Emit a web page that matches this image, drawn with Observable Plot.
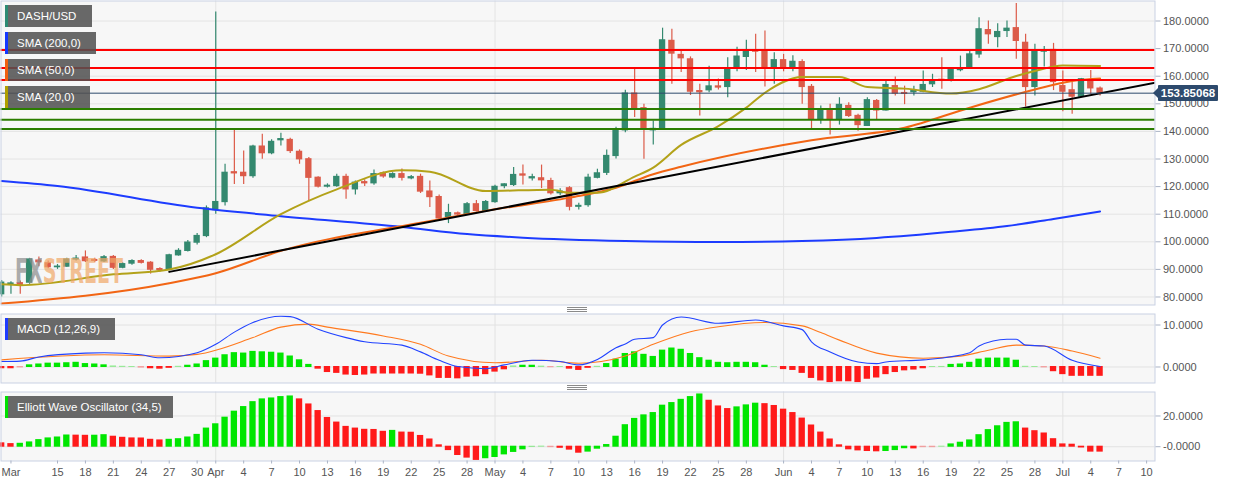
<!DOCTYPE html>
<html><head><meta charset="utf-8">
<script src="https://cdn.jsdelivr.net/npm/d3@7"></script>
<script src="https://cdn.jsdelivr.net/npm/@observablehq/plot@0.6"></script>
<style>
body{margin:0;background:#fff;font-family:"Liberation Sans",Arial,sans-serif;}
#wrap{position:relative;width:1244px;height:486px;overflow:hidden;background:#fff;}
.panel{position:absolute;left:0;}
.panel svg{display:block;}
.leg{position:absolute;left:5px;height:22px;background:rgba(80,80,80,0.86);color:#fff;font-size:11.5px;line-height:22px;padding-left:12px;box-sizing:border-box;white-space:nowrap;}
.leg i{position:absolute;left:0;top:0;width:3px;height:22px;}
.handle{position:absolute;left:567px;width:20px;height:1px;background:#8a8a8a;box-shadow:0 2px 0 #8a8a8a,0 4px 0 #8a8a8a;}
#plabel{position:absolute;left:1158px;width:60px;height:16px;background:#2d4a6d;color:#fff;font-weight:bold;font-size:11.5px;line-height:16px;text-align:center;border-radius:1px;}
#plabel:before{content:"";position:absolute;left:-5px;top:3px;border-top:5px solid transparent;border-bottom:5px solid transparent;border-right:5px solid #2d4a6d;}
</style></head>
<body><div id="wrap">
<div id="p1" class="panel" style="top:0"></div>
<div id="p2" class="panel" style="top:313px"></div>
<div id="p3" class="panel" style="top:391px"></div>
<div class="handle" style="top:307px"></div>
<div class="handle" style="top:385px"></div>
<svg id="wm" style="position:absolute;left:0;top:0;pointer-events:none" width="300" height="300">
 <defs><linearGradient id="wmg" gradientUnits="userSpaceOnUse" x1="15" y1="0" x2="123" y2="0">
  <stop offset="0" stop-color="#8c8c8c"/><stop offset="0.25" stop-color="#8c8c8c"/><stop offset="0.25" stop-color="#f0a868"/><stop offset="1" stop-color="#f0a868"/>
 </linearGradient></defs>
 <text x="15" y="283" font-family="DejaVu Sans Condensed, DejaVu Sans" font-weight="bold" font-size="33" textLength="108" lengthAdjust="spacingAndGlyphs" fill="url(#wmg)" opacity="0.7">FXSTREET</text>
</svg>
<div class="leg" style="top:5px;width:87px"><i style="background:#2e8b74"></i>DASH/USD</div>
<div class="leg" style="top:32px;width:91px"><i style="background:#1438ff"></i>SMA (200,0)</div>
<div class="leg" style="top:59px;width:85px"><i style="background:#f06010"></i>SMA (50,0)</div>
<div class="leg" style="top:86px;width:85px"><i style="background:#b0a000"></i>SMA (20,0)</div>
<div class="leg" style="top:318px;width:110px"><i style="background:#1e3cff"></i>MACD (12,26,9)</div>
<div class="leg" style="top:396px;width:168px"><i style="background:#00e000"></i>Elliott Wave Oscillator (34,5)</div>
<div id="plabel"></div>
</div>
<script>
// ---------- data ----------
const opens = [81.0,84.6,85.0,85.2,93.2,92.2,90.8,91.0,93.6,94.3,93.4,92.9,94.5,90.6,92.1,93.0,92.4,90.1,90.0,95.1,96.7,99.7,102.1,111.5,114.4,125.2,125.0,123.8,134.5,132.1,136.8,136.9,132.6,129.9,123.2,120.0,120.2,123.5,119.0,121.6,121.2,124.8,123.3,124.5,123.0,123.5,118.2,116.2,109.0,110.3,110.0,113.6,111.2,114.4,120.2,120.6,124.4,123.0,123.0,122.0,117.6,119.4,112.7,113.3,123.2,125.0,131.1,140.4,153.7,148.4,140.4,141.1,172.8,167.7,166.1,154.6,154.9,156.3,156.1,163.3,167.0,169.3,168.8,163.3,165.8,163.3,165.1,156.1,144.4,147.4,144.4,149.2,145.6,142.0,151.0,147.6,156.4,153.9,154.2,154.4,157.1,158.7,158.5,162.2,163.1,167.9,176.7,174.2,176.4,177.4,172.1,156.1,168.9,169.5,156.4,154.9,152.6,158.0,155.5];
const highs = [86.0,85.5,85.8,94.0,94.5,93.0,91.8,94.0,95.0,96.7,94.0,95.0,95.0,92.4,93.5,93.5,92.8,90.6,95.5,97.5,100.5,103.0,113.0,183.3,128.1,140.8,132.9,135.0,139.0,137.0,139.3,137.5,133.3,130.5,123.6,121.0,124.5,124.5,122.0,122.5,126.0,125.3,125.0,126.4,124.0,124.5,122.0,117.0,113.6,110.8,114.2,115.0,115.0,120.5,121.0,126.9,127.8,124.5,127.8,123.0,119.2,120.0,114.0,124.5,126.3,133.3,141.5,154.9,162.5,149.8,143.8,177.4,177.0,169.0,167.0,157.1,163.6,159.0,166.7,170.5,173.0,175.2,176.4,168.5,167.9,167.4,166.0,157.0,149.2,149.8,152.2,150.4,146.2,152.2,151.6,158.3,159.7,156.4,156.4,161.9,160.7,166.7,163.0,167.3,169.1,181.2,180.0,179.0,180.0,186.3,175.2,171.6,170.8,171.9,161.9,158.3,159.2,162.1,156.1];
const lows = [80.0,81.0,81.0,84.6,91.0,90.2,90.0,90.8,93.0,92.5,92.5,92.5,90.0,90.2,91.5,92.0,88.3,89.0,89.5,94.8,96.3,98.8,101.5,110.0,113.0,120.8,120.8,123.0,129.9,131.5,134.7,132.0,128.1,114.8,119.5,119.5,119.8,115.4,117.0,120.0,120.5,123.0,122.8,122.0,122.5,117.5,112.4,107.5,106.6,109.3,109.5,110.8,110.8,114.0,119.2,120.0,120.6,122.0,119.3,117.0,116.8,111.2,111.5,112.5,122.8,124.0,130.0,139.5,145.0,129.9,135.1,140.5,157.1,161.3,153.0,145.6,154.0,155.0,152.2,161.6,162.1,161.3,156.1,157.1,161.6,161.6,149.8,140.4,142.6,138.7,142.3,145.0,140.1,141.8,144.0,147.4,152.8,149.7,152.8,154.0,155.9,155.3,157.9,161.6,162.6,166.5,171.6,170.3,174.0,166.1,148.8,152.8,163.3,154.8,147.1,146.2,152.3,153.4,152.8];
const closes = [85.2,84.9,84.4,93.6,92.6,90.8,91.0,93.6,93.9,93.0,93.1,94.4,90.6,91.9,93.0,92.4,89.9,89.8,95.1,96.7,99.7,102.1,112.1,114.4,125.0,124.8,123.8,134.5,132.1,136.2,137.2,132.9,129.9,123.2,120.0,120.3,123.5,119.0,121.4,121.2,124.5,123.7,124.5,123.2,123.4,118.2,116.2,108.5,110.4,109.9,113.6,111.2,114.4,119.9,120.8,124.2,124.0,123.4,122.3,117.6,118.2,112.7,113.0,123.2,124.8,131.1,140.4,153.7,148.4,141.1,140.9,173.0,168.2,166.5,154.4,154.2,156.3,155.9,162.7,167.1,169.1,168.9,163.3,165.8,163.3,165.2,156.1,144.4,147.4,144.4,149.6,145.6,142.3,151.3,147.6,156.8,153.7,153.6,154.6,156.8,158.5,158.3,162.2,162.6,167.9,177.0,175.2,176.0,177.2,172.8,156.1,169.1,169.2,157.9,154.4,152.6,158.9,155.6,153.85];
const firstDay = "2019-03-09", lastDay = "2019-07-05";

const sma200Pts = [["2019-03-09",122.0],["2019-03-15",120.2],["2019-03-30",112.3],["2019-04-08",109.3],["2019-04-21",105.4],["2019-04-28",102.8],["2019-05-04",101.5],["2019-05-15",100.3],["2019-05-25",99.9],["2019-06-03",100.3],["2019-06-11",101.4],["2019-06-19",103.6],["2019-06-25",105.7],["2019-06-30",108.3],["2019-07-05",111.0]];
const sma50Pts = [["2019-03-09",77.6],["2019-03-27",85.0],["2019-04-01",88.6],["2019-04-08",96.7],["2019-04-23",106.9],["2019-04-30",111.2],["2019-05-09",116.0],["2019-05-14",119.6],["2019-05-18",124.5],["2019-05-21",127.2],["2019-06-04",136.8],["2019-06-14",141.3],["2019-06-21",148.6],["2019-06-28",155.2],["2019-07-02",158.3],["2019-07-05",159.2]];
const sma20Pts = [["2019-03-09",84.6],["2019-03-11",84.3],["2019-03-21",88.2],["2019-03-27",90.0],["2019-04-01",95.5],["2019-04-08",110.0],["2019-04-14",119.0],["2019-04-21",125.9],["2019-04-24",125.4],["2019-04-30",118.4],["2019-05-07",118.9],["2019-05-09",117.8],["2019-05-12",117.8],["2019-05-16",123.6],["2019-05-18",126.9],["2019-05-21",135.1],["2019-05-25",141.9],["2019-05-28",148.6],["2019-05-30",154.0],["2019-06-03",159.7],["2019-06-07",159.7],["2019-06-10",156.1],["2019-06-14",155.5],["2019-06-19",153.7],["2019-06-22",155.3],["2019-06-26",160.1],["2019-06-28",161.9],["2019-07-01",163.9],["2019-07-05",163.7]];
const trendPts = [["2019-03-27",89.1],["2019-07-11",157.7]];
const resistance = [169.5, 163.0, 158.6];
const support = [148.1, 144.2, 140.9];
const lastPrice = 153.85068;

const macdPts = [["2019-03-09",1.3],["2019-03-11",1.4],["2019-03-13",2.4],["2019-03-18",3.3],["2019-03-20",3.4],["2019-03-24",2.9],["2019-03-26",2.2],["2019-03-30",3.4],["2019-04-01",5.4],["2019-04-03",8.3],["2019-04-05",10.6],["2019-04-08",12.1],["2019-04-09",12.0],["2019-04-12",9.0],["2019-04-15",7.0],["2019-04-17",6.0],["2019-04-21",5.2],["2019-04-23",3.6],["2019-04-25",1.6],["2019-04-27",0.1],["2019-04-30",-0.4],["2019-05-02",0.5],["2019-05-05",1.6],["2019-05-08",1.3],["2019-05-10",0.5],["2019-05-12",1.8],["2019-05-14",4.6],["2019-05-15",5.5],["2019-05-16",6.6],["2019-05-18",7.0],["2019-05-19",10.0],["2019-05-21",11.9],["2019-05-25",10.4],["2019-05-29",11.2],["2019-06-01",9.8],["2019-06-03",8.9],["2019-06-04",6.0],["2019-06-06",3.6],["2019-06-09",1.2],["2019-06-11",0.8],["2019-06-12",1.2],["2019-06-16",1.7],["2019-06-21",3.4],["2019-06-22",5.0],["2019-06-25",6.6],["2019-06-26",6.6],["2019-06-27",5.2],["2019-06-29",5.0],["2019-07-02",1.6],["2019-07-05",0.1]];
const signalPts = [["2019-03-09",1.7],["2019-03-20",2.9],["2019-03-27",2.6],["2019-03-30",3.0],["2019-04-05",7.0],["2019-04-08",9.5],["2019-04-11",10.2],["2019-04-13",9.5],["2019-04-19",7.4],["2019-04-23",5.4],["2019-04-26",2.6],["2019-05-01",1.0],["2019-05-06",1.6],["2019-05-10",0.9],["2019-05-15",2.6],["2019-05-18",5.4],["2019-05-22",8.4],["2019-05-25",9.6],["2019-05-30",10.6],["2019-06-03",9.8],["2019-06-05",8.2],["2019-06-07",6.4],["2019-06-11",3.3],["2019-06-16",2.1],["2019-06-20",2.6],["2019-06-23",4.0],["2019-06-26",5.2],["2019-06-29",5.0],["2019-07-02",3.8],["2019-07-05",2.1]];
const macdHist = [-0.3,-0.3,-0.1,0.4,0.6,0.8,0.8,0.9,1.0,0.7,0.6,0.4,0.15,0.05,0.0,-0.15,-0.3,-0.4,-0.2,0.05,0.3,0.6,1.4,2.0,2.8,3.3,3.2,3.6,3.5,3.4,3.2,2.5,1.6,0.5,-0.4,-1.2,-1.4,-1.8,-1.9,-1.8,-1.55,-1.55,-1.55,-1.55,-1.55,-1.6,-2.0,-2.6,-2.6,-2.7,-2.3,-2.2,-1.7,-1.1,-0.55,0.15,0.3,0.3,0.1,-0.05,0.0,-0.4,-0.7,-0.2,0.05,0.7,1.75,3.1,3.5,2.9,2.4,3.9,4.4,4.1,3.1,2.1,1.5,1.0,0.9,1.0,1.0,0.9,0.3,0.0,-0.5,-0.7,-1.4,-2.6,-3.2,-3.6,-3.4,-3.4,-3.6,-2.8,-2.5,-1.7,-1.2,-0.8,-0.6,-0.3,0.0,0.02,0.5,0.6,1.0,1.75,2.0,2.0,2.0,1.5,0.05,0.0,-0.1,-1.0,-1.7,-2.1,-2.1,-2.1,-2.1];
const ewo = [2.2,1.7,1.9,2.8,4.3,5.4,6.0,7.3,7.2,7.1,7.15,7.5,6.5,5.8,5.4,5.35,4.5,4.1,4.5,4.9,6.0,7.7,11.8,14.6,18.9,22.8,25.8,29.0,30.8,31.4,32.3,32.7,30.8,27.5,23.2,18.7,15.7,12.9,11.8,11.0,10.9,9.7,10.3,9.2,9.1,7.0,4.7,0.9,-2.2,-5.4,-7.1,-8.6,-7.5,-6.7,-5.0,-3.4,-1.7,-0.2,0.1,-0.3,-0.7,-1.9,-3.9,-3.2,-1.3,1.1,6.5,14.0,18.1,20.4,21.9,26.7,28.4,30.5,32.3,34.0,29.9,26.2,24.5,25.6,26.9,28.0,27.7,26.5,24.1,21.9,18.3,13.8,9.2,4.7,0.9,-1.7,-2.4,-2.8,-3.0,-2.8,-2.2,-1.0,-1.1,-0.3,-0.3,0.05,1.5,2.6,4.1,7.5,10.8,13.3,15.5,15.9,11.8,10.1,8.6,4.9,1.5,1.3,-0.5,-3.2,-3.2];
const ewoColors = "rrggggggrrggrrrrrrggggggggggggggrrrrrrrrrrgrrrrrrrrrgggggggrrrrgggggggggggggrrrgggrrrrrrrrrrrrrgggrrrgggggggggrrrrrrrrr".split("");

const priceTicks = [80,90,100,110,120,130,140,150,160,170,180];
const macdTicks = [0,10], macdTickLabels = ["0.0000","10.0000"];
const ewoTicks = [0,20], ewoTickLabels = ["-0.0000","20.0000"];
const monthStarts = ["2019-04-01","2019-05-01","2019-06-01","2019-07-01"];
const xTickDates = ["2019-03-10","2019-03-15","2019-03-18","2019-03-21","2019-03-24","2019-03-27","2019-03-30","2019-04-01","2019-04-04","2019-04-07","2019-04-10","2019-04-13","2019-04-16","2019-04-19","2019-04-22","2019-04-25","2019-04-28","2019-05-01","2019-05-04","2019-05-07","2019-05-10","2019-05-13","2019-05-16","2019-05-19","2019-05-22","2019-05-25","2019-05-28","2019-06-01","2019-06-04","2019-06-07","2019-06-10","2019-06-13","2019-06-16","2019-06-19","2019-06-22","2019-06-25","2019-06-28","2019-07-01","2019-07-04","2019-07-07","2019-07-10"];
const xTickLabels = ["Mar","15","18","21","24","27","30","Apr","4","7","10","13","16","19","22","25","28","May","4","7","10","13","16","19","22","25","28","Jun","4","7","10","13","16","19","22","25","28","Jul","4","7","10"];

// ---------- build ----------
const DAY = 864e5;
const P = s => new Date(s + "T00:00:00Z");
const dates = d3.utcDay.range(P(firstDay), new Date(+P(lastDay) + DAY));
const candles = dates.map((d, i) => ({date: d, o: opens[i], h: highs[i], l: lows[i], c: closes[i]}));
const macdBars = dates.map((d, i) => ({date: d, v: macdHist[i]}));
const ewoBars = dates.map((d, i) => ({date: d, v: ewo[i], col: ewoColors[i]}));
const pts = arr => arr.map(([d, v]) => ({date: P(d), v}));
const months = monthStarts.map(P);
const tickDates = xTickDates.map(P);
const labelOf = new Map(tickDates.map((d, i) => [+d, xTickLabels[i]]));

const ref = P("2019-03-10");
const xDomain = [new Date(+ref - 1.07 * DAY), new Date(+ref + 122.9 * DAY)];
const GREEN = "#34896f", RED = "#dc5b49";
const HG = "#00e600", HR = "#ff1a1a";
const halfW = 0.34 * DAY;
const common = {
  width: 1244, marginLeft: 0.5, marginRight: 89.5,
  style: {fontFamily: "Liberation Sans, Arial, sans-serif", fontSize: "11px", color: "#555", background: "transparent", overflow: "visible"}
};
const x1 = d => new Date(+d.date - halfW), x2 = d => new Date(+d.date + halfW);

const price = Plot.plot({
  ...common, height: 305, marginTop: 0.5, marginBottom: 0.5,
  x: {type: "utc", domain: xDomain, axis: null},
  y: {domain: [77.1, 187.25], axis: null},
  marks: [
    Plot.frame({fill: "#f7f7f7"}),
    Plot.ruleY(priceTicks, {stroke: "#e4e4e4"}),
    Plot.ruleX(months, {stroke: "#e4e4e4"}),
    Plot.ruleX(candles, {x: "date", y1: "l", y2: "h", stroke: d => d.c >= d.o ? GREEN : RED, strokeWidth: 1.2}),
    Plot.rect(candles, {x1, x2, y1: "o", y2: "c", fill: d => d.c >= d.o ? GREEN : RED, insetTop: -0.6, insetBottom: -0.6}),
    Plot.line(pts(sma200Pts), {x: "date", y: "v", stroke: "#1d3cff", strokeWidth: 2, curve: "monotone-x"}),
    Plot.line(pts(sma50Pts), {x: "date", y: "v", stroke: "#f26514", strokeWidth: 2, curve: "monotone-x"}),
    Plot.line(pts(sma20Pts), {x: "date", y: "v", stroke: "#b3a219", strokeWidth: 2, curve: "monotone-x"}),
    Plot.line(pts(trendPts), {x: "date", y: "v", stroke: "#000", strokeWidth: 2, clip: true}),
    Plot.ruleY(resistance, {stroke: "#ff0000", strokeWidth: 2}),
    Plot.ruleY(support, {stroke: "#2b7d00", strokeWidth: 2}),
    Plot.ruleY([lastPrice], {stroke: "#2d4a6d", strokeWidth: 1}),
    Plot.frame({stroke: "#c9d1e3"}),
    Plot.axisY(priceTicks, {anchor: "right", tickSize: 5, tickPadding: 3, tickFormat: v => v.toFixed(4), label: null, stroke: "#aab3c5", fill: "#555"})
  ]
});
document.getElementById("p1").append(price);

const macd = Plot.plot({
  ...common, height: 70, marginTop: 0.5, marginBottom: 0.5,
  x: {type: "utc", domain: xDomain, axis: null},
  y: {domain: [-3.81, 12.62], axis: null},
  marks: [
    Plot.frame({fill: "#f7f7f7"}),
    Plot.ruleY(macdTicks, {stroke: "#e2e2e2"}),
    Plot.ruleX(months, {stroke: "#e2e2e2"}),
    Plot.rect(macdBars, {x1, x2, y1: 0, y2: "v", fill: d => d.v >= 0 ? HG : HR, fillOpacity: d => Math.abs(d.v) < 0.2 ? 0.35 : 1, insetTop: -0.5, insetBottom: -0.5}),
    Plot.line(pts(signalPts), {x: "date", y: "v", stroke: "#ff7a1f", strokeWidth: 1.1, curve: "monotone-x"}),
    Plot.line(pts(macdPts), {x: "date", y: "v", stroke: "#2143ff", strokeWidth: 1.1, curve: "monotone-x"}),
    Plot.frame({stroke: "#c9d1e3"}),
    Plot.axisY(macdTicks, {anchor: "right", tickSize: 5, tickPadding: 3, tickFormat: v => macdTickLabels[macdTicks.indexOf(v)], label: null, stroke: "#aab3c5", fill: "#555"})
  ]
});
document.getElementById("p2").append(macd);

const ewoPlot = Plot.plot({
  ...common, height: 96, marginTop: 0.5, marginBottom: 26.5,
  x: {type: "utc", domain: xDomain, axis: null},
  y: {domain: [-9.3, 35.6], axis: null},
  marks: [
    Plot.frame({fill: "#f7f7f7"}),
    Plot.ruleY(ewoTicks, {stroke: "#e2e2e2"}),
    Plot.ruleX(months, {stroke: "#e2e2e2"}),
    Plot.rect(ewoBars, {x1, x2, y1: 0, y2: "v", fill: d => d.col === "g" ? HG : HR, fillOpacity: d => Math.abs(d.v) < 0.35 ? 0.35 : 1, insetTop: -0.5, insetBottom: -0.5}),
    Plot.frame({stroke: "#c9d1e3"}),
    Plot.axisY(ewoTicks, {anchor: "right", tickSize: 5, tickPadding: 3, tickFormat: v => ewoTickLabels[ewoTicks.indexOf(v)], label: null, stroke: "#aab3c5", fill: "#555"}),
    Plot.axisX(tickDates, {anchor: "bottom", tickSize: 3, tickPadding: 4, tickFormat: d => labelOf.get(+d), label: null, stroke: "#aab3c5", fill: "#555"})
  ]
});
document.getElementById("p3").append(ewoPlot);

const lbl = document.getElementById("plabel");
lbl.textContent = lastPrice.toFixed(5);
lbl.style.top = (price.scale("y").apply(lastPrice) - 8) + "px";
</script>
</body></html>
